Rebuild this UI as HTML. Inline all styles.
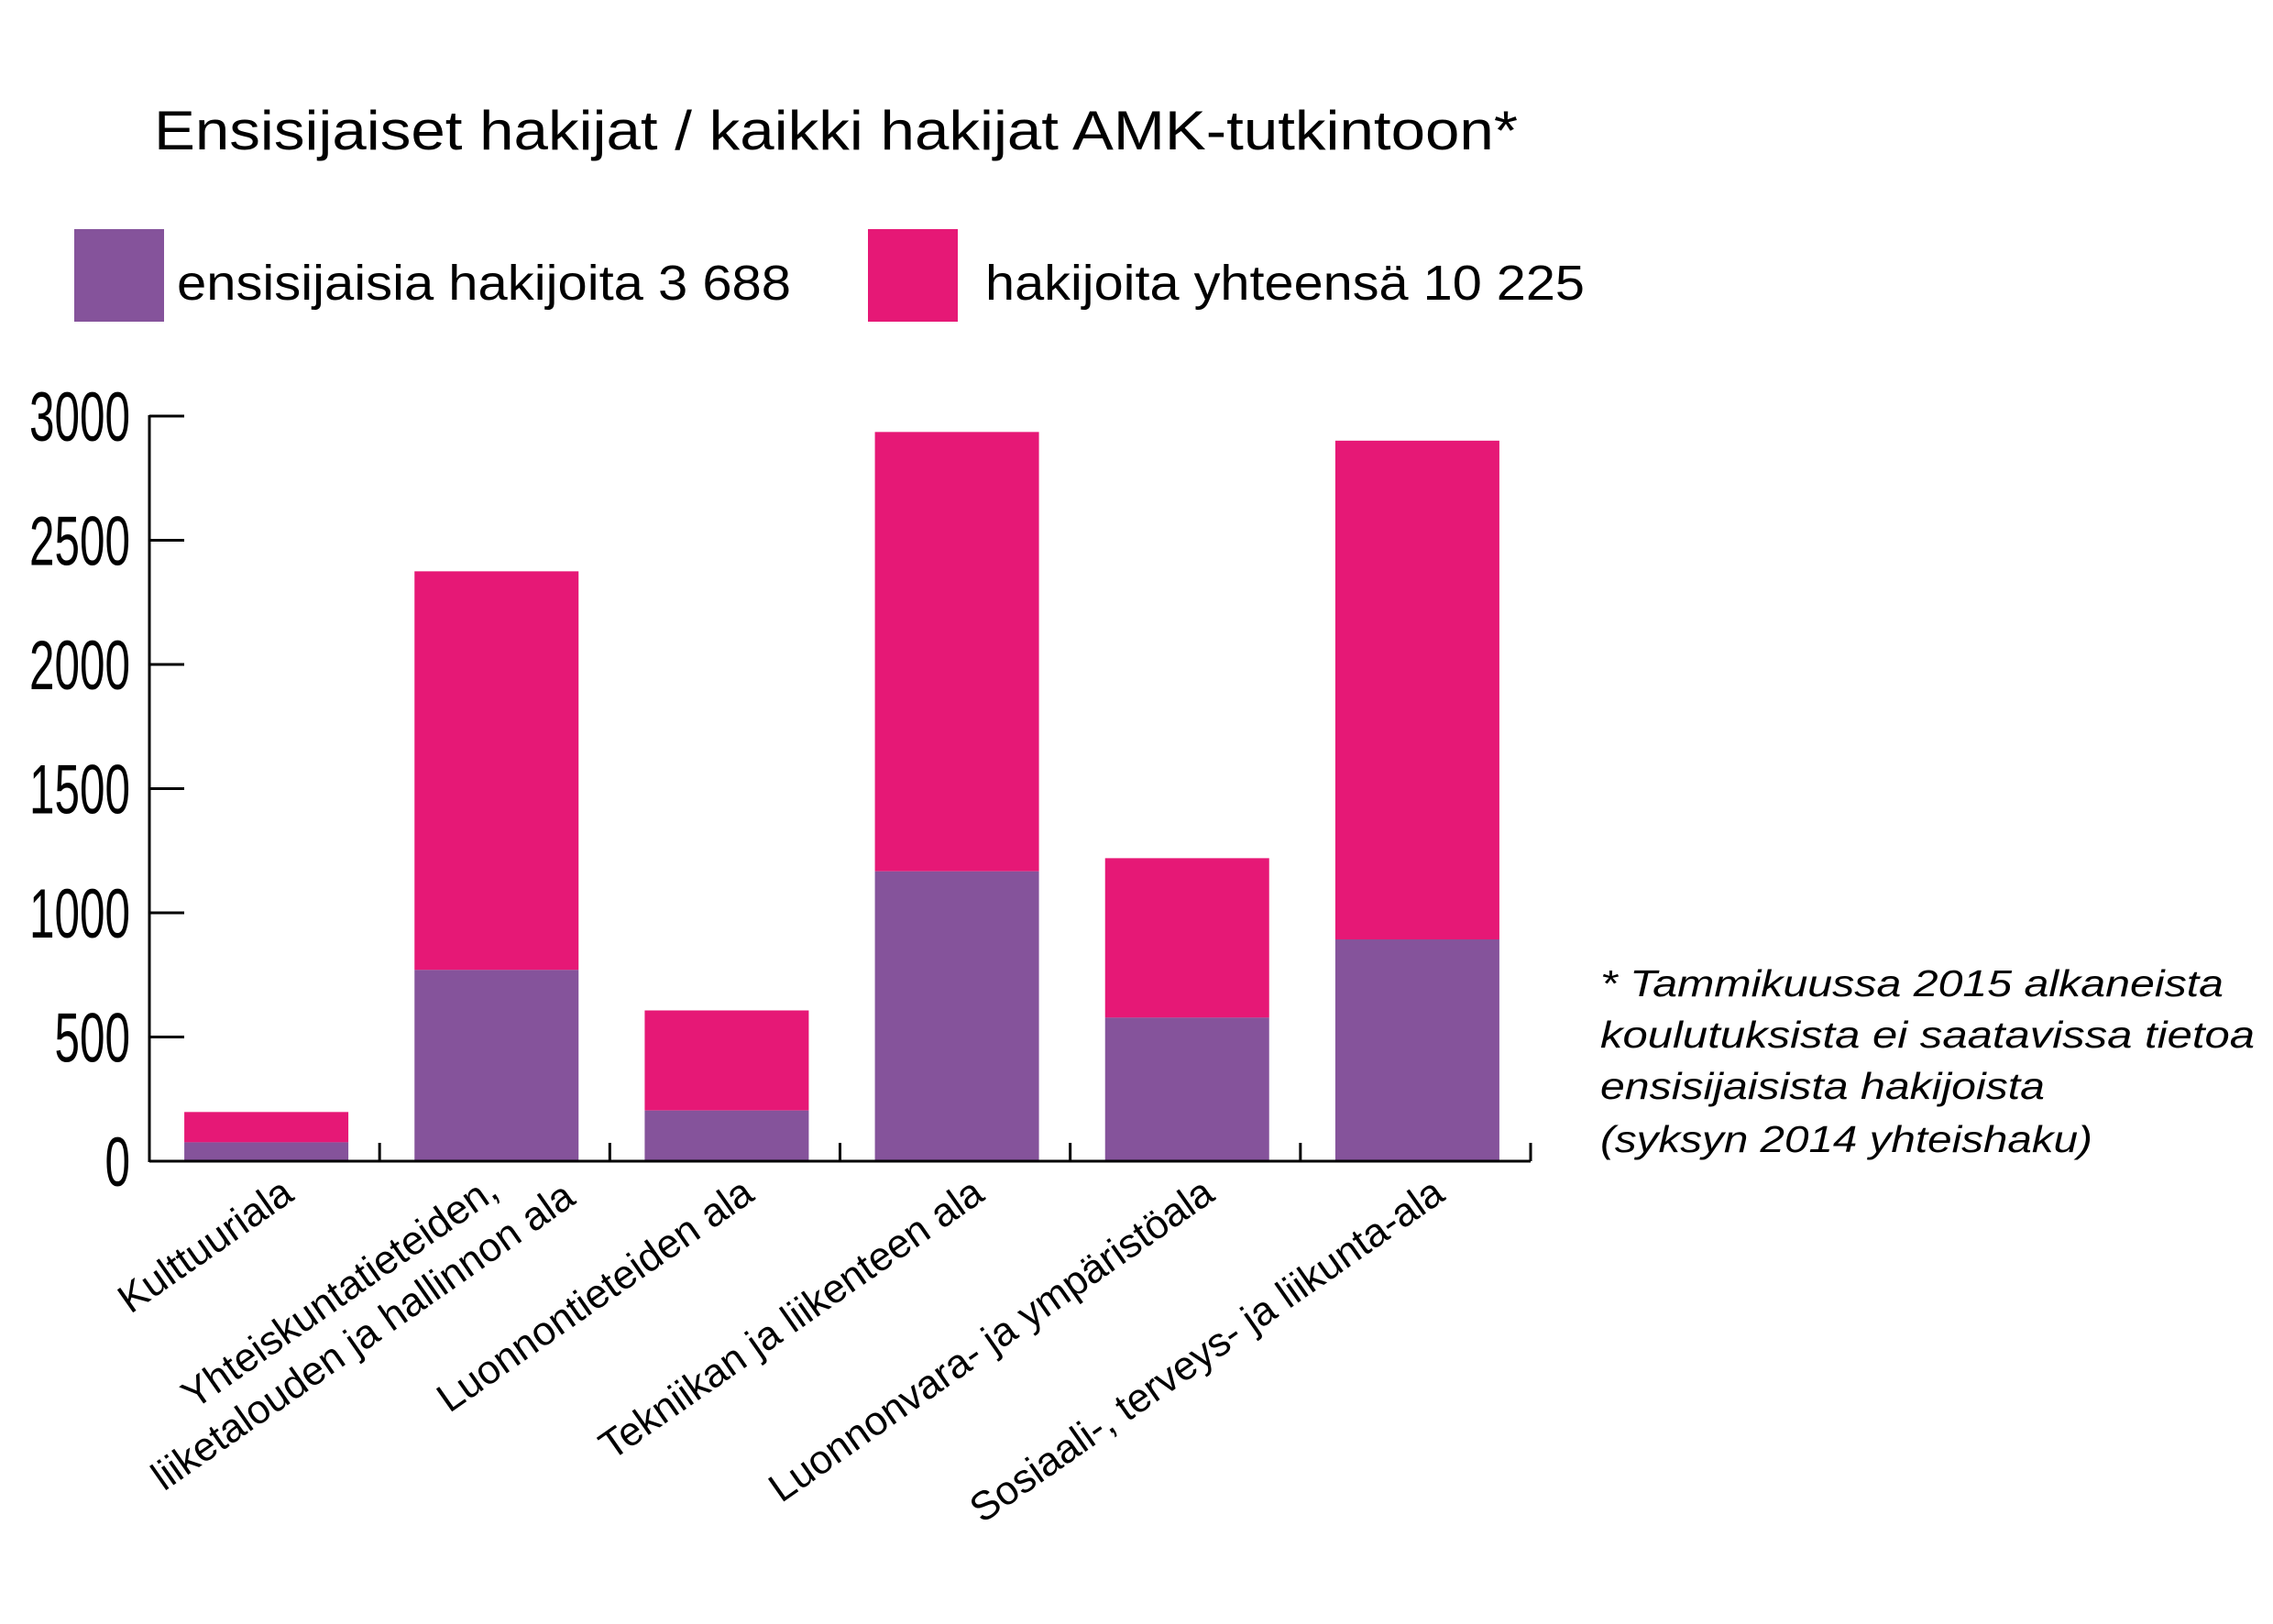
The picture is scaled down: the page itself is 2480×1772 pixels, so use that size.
<!DOCTYPE html>
<html><head><meta charset="utf-8"><style>
html,body{margin:0;padding:0;background:#fff;}
svg{display:block;font-family:"Liberation Sans",sans-serif;}
</style></head><body>
<svg id="chart" width="2480" height="1772" viewBox="0 0 2480 1772" xmlns="http://www.w3.org/2000/svg">
<rect width="2480" height="1772" fill="#fff"/>
<text x="168" y="163" font-size="60" textLength="1488" lengthAdjust="spacingAndGlyphs" fill="#000">Ensisijaiset hakijat / kaikki hakijat AMK-tutkintoon*</text>
<rect x="81" y="250" width="98" height="101" fill="#85539b"/>
<text x="193" y="327" font-size="54" textLength="670" lengthAdjust="spacingAndGlyphs">ensisijaisia hakijoita 3 688</text>
<rect x="947" y="250" width="98" height="101" fill="#e61876"/>
<text x="1075" y="327" font-size="54" textLength="654" lengthAdjust="spacingAndGlyphs">hakijoita yhteensä 10 225</text>
<g id="axes"></g>
<g id="bars"></g>
<g id="xlabels" font-size="44"></g>
<g font-size="41" font-style="italic">
<text x="1746" y="1087" textLength="680" lengthAdjust="spacingAndGlyphs">* Tammikuussa 2015 alkaneista</text>
<text x="1746" y="1143" textLength="714" lengthAdjust="spacingAndGlyphs">koulutuksista ei saatavissa tietoa</text>
<text x="1746" y="1199" textLength="485" lengthAdjust="spacingAndGlyphs">ensisijaisista hakijoista</text>
<text x="1746" y="1257" textLength="537" lengthAdjust="spacingAndGlyphs">(syksyn 2014 yhteishaku)</text>
</g>
</svg>
<script>
const categories = ["Kulttuuriala", ["Yhteiskuntatieteiden,", "liiketalouden ja hallinnon ala"], "Luonnontieteiden ala", "Tekniikan ja liikenteen ala", "Luonnonvara- ja ympäristöala", "Sosiaali-, terveys- ja liikunta-ala"];
const firstChoice = [76, 770, 204, 1167, 578, 893];
const totalApplicants = [198, 2375, 607, 2936, 1220, 2901];
const yTicks = [0, 500, 1000, 1500, 2000, 2500, 3000];

const NS = "http://www.w3.org/2000/svg";
const X0 = 163, X1 = 1670, Y0 = 1267, Y3000 = 454;
const band = (X1 - X0) / categories.length;
const barW = 179;
function yScale(v){ return Y0 - (v / 3000) * (Y0 - Y3000); }
function xCenter(i){ return X0 + band * (i + 0.5) + 2; }
function mk(tag, attrs, parent){ const e = document.createElementNS(NS, tag); for (const k in attrs) e.setAttribute(k, attrs[k]); parent.appendChild(e); return e; }

const axes = document.getElementById('axes');
const yAxis = mk('line', {x1:X0, y1:Y3000-1, x2:X0, y2:Y0+1, stroke:'#000', 'stroke-width':3}, axes);


const xAxis = mk('line', {x1:X0, y1:Y0, x2:X1, y2:Y0, stroke:'#000', 'stroke-width':3}, axes);


yTicks.forEach(t => {
  const y = yScale(t);
  const tk = mk('line', {x1:X0, y1:y, x2:X0+38, y2:y, stroke:'#000', 'stroke-width':3}, axes);
  
  
  const s = String(t);
  const lb = mk('text', {x:142, y:y+27, 'font-size':76, 'text-anchor':'end', textLength: s.length*27.5, lengthAdjust:'spacingAndGlyphs'}, axes);
  lb.textContent = s;
  
  
});
for (let i = 1; i <= categories.length; i++) {
  const x = X0 + band * i;
  const tk = mk('line', {x1:x, y1:Y0-20, x2:x, y2:Y0, stroke:'#000', 'stroke-width':3}, axes);
  
  
}

const bars = document.getElementById('bars');
categories.forEach((c, i) => {
  const cx = xCenter(i);
  const yt = yScale(totalApplicants[i]), yf = yScale(firstChoice[i]);
  const top = mk('rect', {x:cx-barW/2, y:yt, width:barW, height:yf-yt, fill:'#e61876'}, bars);
  
  
  const bot = mk('rect', {x:cx-barW/2, y:yf, width:barW, height:Y0-yf-1.5, fill:'#85539b'}, bars);
  
  
});

const xl = document.getElementById('xlabels');
categories.forEach((c, i) => {
  const cx = xCenter(i);
  if (Array.isArray(c)) {
    const t = mk('text', {x:0, y:0, 'text-anchor':'end', transform:`translate(${cx+88},${1312}) rotate(-35)`}, xl);
    
    
    const a = mk('tspan', {x:-64, y:-54}, t); a.textContent = c[0];
    const b = mk('tspan', {x:0, y:0}, t); b.textContent = c[1];
  } else {
    const t = mk('text', {x:0, y:0, 'text-anchor':'end', transform:`translate(${cx+32},${1308}) rotate(-35)`}, xl);
    t.textContent = c;
    
    
  }
});
</script>
</body></html>
